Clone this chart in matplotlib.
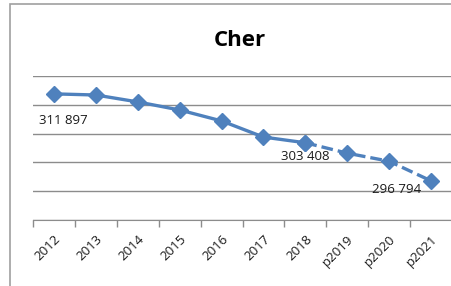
import matplotlib
matplotlib.use("Agg")
import matplotlib.pyplot as plt
from matplotlib.patches import Rectangle

years = ["2012", "2013", "2014", "2015", "2016", "2017", "2018", "p2019", "p2020", "p2021"]
population = [311897, 311700, 310500, 309100, 307200, 304400, 303408, 301600, 300200, 296794]
labelled = {0: (7, -19), 6: (0, -10), 9: (-25, -6)}  # index -> label offset (points)

BLUE = "#4F81BD"
GRID = "#8C8C8C"
plt.rcParams["font.family"] = ["Open Sans", "DejaVu Sans"]

fig = plt.figure(figsize=(4.52, 2.86), dpi=100)
fig.patches.append(Rectangle((10 / 452, -0.1), 1.2, 1.1 - 4 / 286, transform=fig.transFigure,
                             fill=False, edgecolor="#A0A0A0", linewidth=1.2))
ax = fig.add_axes([33 / 452, 1 - 220 / 286, 1 - 33 / 452, (220 - 76) / 286])

x = list(range(len(years)))
solid = 7  # 2012..2018 observed, rest projected
ax.plot(x[:solid], population[:solid], color=BLUE, lw=2.4, marker="D", ms=8, zorder=3)
ax.plot(x[solid - 1:], population[solid - 1:], color=BLUE, lw=2.4, ls=(0, (3.5, 1.5)),
        marker="D", ms=8, zorder=3)

for i, off in labelled.items():
    txt = f"{population[i]:,}".replace(",", " ")
    ax.annotate(txt, (x[i], population[i]), xytext=off, textcoords="offset points",
                ha="center", va="center", fontsize=9.5, color="#1a1a1a")

ax.set_xlim(-0.5, len(years) - 0.5)
ax.set_ylim(290000, 315000)
ax.set_yticks(range(290000, 315001, 5000))
ax.yaxis.grid(True, color=GRID, lw=1)
ax.tick_params(axis="y", left=False, labelleft=False)
ax.set_xticks([i - 0.5 for i in range(len(years) + 1)], minor=False)
ax.set_xticklabels([""] * (len(years) + 1))
ax.set_xticks(x, minor=True)
ax.set_xticklabels(years, minor=True, rotation=45, ha="right", rotation_mode="anchor",
                   fontsize=9.5, color="#1a1a1a")
ax.tick_params(axis="x", which="major", length=5, color=GRID, width=1)
ax.tick_params(axis="x", which="minor", length=0, pad=9)
for s in ("left", "right", "top"):
    ax.spines[s].set_visible(False)
ax.spines["bottom"].set_color(GRID)
ax.set_axisbelow(True)

fig.text(240 / 452, 1 - 40 / 286, "Cher", ha="center", va="center", fontsize=16,
         fontweight="bold")

fig.savefig("out.png", dpi=100)
